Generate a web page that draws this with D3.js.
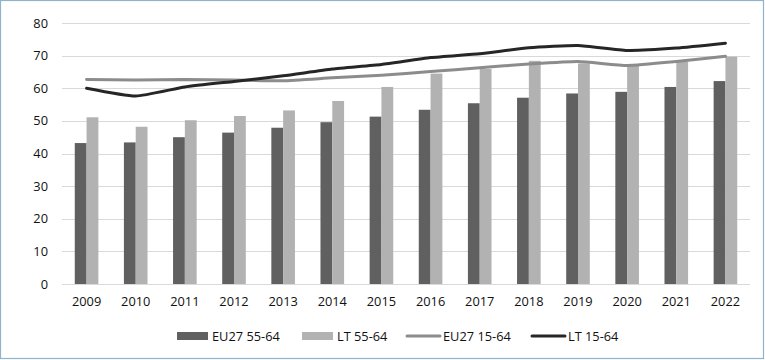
<!DOCTYPE html>
<html><head><meta charset="utf-8">
<script src="https://cdn.jsdelivr.net/npm/d3@7"></script>
<style>html,body{margin:0;padding:0;background:#fff}svg{display:block}</style>
</head><body>
<svg id="c" width="765" height="360"></svg>
<script>
const years = ["2009","2010","2011","2012","2013","2014","2015","2016","2017","2018","2019","2020","2021","2022"];
const eu5564 = [43.2,43.4,45.0,46.4,47.9,49.6,51.3,53.4,55.4,57.1,58.4,58.9,60.4,62.2];
const lt5564 = [51.1,48.2,50.2,51.5,53.2,56.1,60.4,64.5,65.9,68.4,67.6,66.9,68.1,69.7];
const eu1564 = [62.7,62.5,62.7,62.5,62.3,63.2,64.0,65.1,66.3,67.4,68.2,67.0,68.2,69.8];
const lt1564 = [60.0,57.6,60.4,62.1,63.8,65.9,67.3,69.4,70.6,72.4,73.1,71.6,72.3,73.8];
const yTicks = [0,10,20,30,40,50,60,70,80];
const legendLabels = ["EU27 55-64","LT 55-64","EU27 15-64","LT 15-64"];

const svg = d3.select("#c");
const font = "'Open Sans', sans-serif";
svg.append("rect").attr("x",0.5).attr("y",0.5).attr("width",763).attr("height",358)
  .attr("fill","#fff").attr("stroke","#8fb4ca").attr("stroke-width",1.2);

const L=62, R=750, T=23, B=284;
const x0 = d3.scaleBand().domain(years).range([L,R]);
const y = d3.scaleLinear().domain([0,80]).range([B,T]);

const g = svg.append("g");
g.selectAll("line.grid").data(yTicks).join("line")
  .attr("x1",L).attr("x2",R).attr("y1",d=>Math.round(y(d))+0.5).attr("y2",d=>Math.round(y(d))+0.5)
  .attr("stroke","#d9d9d9").attr("stroke-width",1);

const yAxis = d3.axisLeft(y).tickValues(yTicks).tickSize(0).tickPadding(14);
const ya = g.append("g").attr("transform",`translate(${L},0)`).call(yAxis);
ya.select(".domain").remove();
ya.selectAll("text").attr("font-family",font).attr("font-size",12.8).attr("fill","#111");

const xAxis = d3.axisBottom(x0).tickSize(0).tickPadding(13);
const xa = g.append("g").attr("transform",`translate(0,${B})`).call(xAxis);
xa.select(".domain").remove();
xa.selectAll("text").attr("font-family",font).attr("font-size",12.8).attr("fill","#111");

const bw = 11.8;
const cx = d => x0(d) + x0.bandwidth()/2;
g.selectAll("rect.eu").data(years).join("rect")
  .attr("x",(d)=>cx(d)-bw).attr("width",bw)
  .attr("y",(d,i)=>y(eu5564[i])).attr("height",(d,i)=>B-y(eu5564[i]))
  .attr("fill","#606060");
g.selectAll("rect.lt").data(years).join("rect")
  .attr("x",(d)=>cx(d)).attr("width",bw)
  .attr("y",(d,i)=>y(lt5564[i])).attr("height",(d,i)=>B-y(lt5564[i]))
  .attr("fill","#b2b2b2");

const line = d3.line().x((d,i)=>cx(years[i])).y(d=>y(d)).curve(d3.curveCardinal.tension(0.5));
g.append("path").attr("d",line(eu1564)).attr("fill","none").attr("stroke","#8c8c8c")
  .attr("stroke-width",3).attr("stroke-linecap","round");
g.append("path").attr("d",line(lt1564)).attr("fill","none").attr("stroke","#262626")
  .attr("stroke-width",3).attr("stroke-linecap","round");

// legend
const ly = 336;
const leg = svg.append("g");
const items = [
  {x:177, type:"rect", color:"#606060"},
  {x:302, type:"rect", color:"#b2b2b2"},
  {x:407, type:"line", color:"#8c8c8c"},
  {x:532, type:"line", color:"#262626"}
];
items.forEach((it,i)=>{
  if(it.type==="rect"){
    leg.append("rect").attr("x",it.x).attr("y",ly-4).attr("width",31).attr("height",8).attr("fill",it.color);
  } else {
    leg.append("line").attr("x1",it.x).attr("x2",it.x+33).attr("y1",ly).attr("y2",ly)
      .attr("stroke",it.color).attr("stroke-width",3).attr("stroke-linecap","round");
  }
  leg.append("text").attr("x",it.x+(it.type==="rect"?35:36)).attr("y",ly+4.5)
    .attr("font-family",font).attr("font-size",12.8).attr("fill","#111").text(legendLabels[i]);
});
</script>
</body></html>
